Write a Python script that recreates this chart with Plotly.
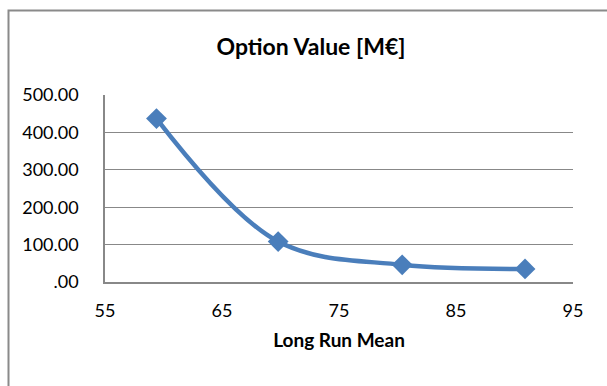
import plotly.graph_objects as go

# Option value as a function of the long run mean
long_run_mean = [59.4, 69.8, 80.4, 90.9]
option_value = [437, 108, 46, 35]

y_ticks = [0, 100, 200, 300, 400, 500]
y_tick_labels = [".00", "100.00", "200.00", "300.00", "400.00", "500.00"]
x_ticks = [55, 65, 75, 85, 95]

W, H = 607, 386
L, R, T, B = 105, 34, 95, 104

FONT = "Lato"
GRID = "#888888"
BLUE = "#4A7EBB"

fig = go.Figure(
    go.Scatter(
        x=long_run_mean,
        y=option_value,
        mode="lines+markers",
        line=dict(color=BLUE, width=4.5, shape="spline", smoothing=1.0),
        marker=dict(symbol="diamond", size=16, color=BLUE),
        showlegend=False,
        cliponaxis=False,
    )
)

fig.update_layout(
    width=W,
    height=H,
    margin=dict(l=L, r=R, t=T, b=B),
    paper_bgcolor="white",
    plot_bgcolor="white",
    font=dict(family=FONT, size=18, color="#000000"),
    title=dict(
        text="<b>Option Value [M€]</b>",
        x=311 / W,
        xref="container",
        xanchor="center",
        y=1 - 47 / H,
        yref="container",
        yanchor="middle",
        font=dict(family=FONT, size=23, color="#000000"),
    ),
    xaxis=dict(
        range=[55, 95],
        tickvals=x_ticks,
        ticktext=[str(v) for v in x_ticks],
        showgrid=False,
        zeroline=False,
        showline=True,
        linecolor=GRID,
        linewidth=1.5,
        ticks="",
        ticklabelstandoff=12,
        tickfont=dict(family=FONT, size=18),
        title=dict(
            text="<b>Long Run Mean</b>",
            font=dict(family=FONT, size=19),
            standoff=13,
        ),
    ),
    yaxis=dict(
        range=[0, 500],
        tickvals=y_ticks,
        ticktext=y_tick_labels,
        showgrid=True,
        gridcolor=GRID,
        gridwidth=1.2,
        zeroline=False,
        showline=True,
        linecolor=GRID,
        linewidth=1.5,
        ticks="",
        ticklabelstandoff=21,
        tickfont=dict(family=FONT, size=18),
    ),
    shapes=[
        # outer chart frame, running off the right and bottom edges
        dict(
            type="rect",
            xref="paper",
            yref="paper",
            x0=(8.5 - L) / (W - L - R),
            x1=2.0,
            y0=-1.0,
            y1=1 + (T - 10.5) / (H - T - B),
            line=dict(color="#8a8a8a", width=2),
            fillcolor="rgba(0,0,0,0)",
            layer="below",
        )
    ],
)

fig.write_html("out.html")
